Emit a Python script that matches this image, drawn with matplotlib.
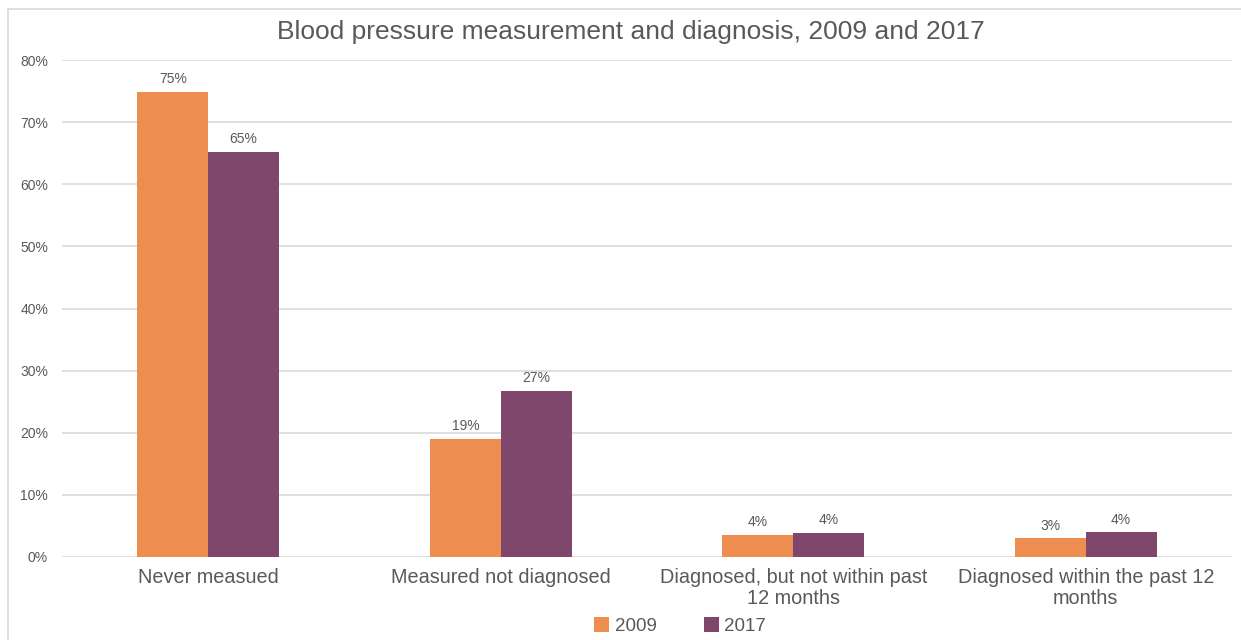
import numpy as np
import matplotlib
matplotlib.use('Agg')
import matplotlib.pyplot as plt
from matplotlib.patches import Rectangle
from matplotlib.ticker import FuncFormatter

plt.rcParams['font.family'] = ['Liberation Sans', 'DejaVu Sans']

categories = ['Never measued', 'Measured not diagnosed',
              'Diagnosed, but not within past\n12 months',
              'Diagnosed within the past 12\nmonths']
vals_2009 = [74.9, 19.0, 3.6, 3.0]
vals_2017 = [65.2, 26.8, 3.9, 4.0]
labels_2009 = ['75%', '19%', '4%', '3%']
labels_2017 = ['65%', '27%', '4%', '4%']
yticks = [0, 10, 20, 30, 40, 50, 60, 70, 80]

orange = '#ED8D4F'
purple = '#7F476B'
text_col = '#595959'
grid_col = '#D9D9D9'

fig = plt.figure(figsize=(12.41, 6.4), dpi=100)
ax = fig.add_axes([62 / 1241, 83 / 640, 1170 / 1241, 497 / 640])

# outer chart border
fig.patches.append(Rectangle((8 / 1241, -0.05), 1.1, 1 - 9 / 640 + 0.05,
                             transform=fig.transFigure, fill=False,
                             edgecolor='#D9D9D9', linewidth=1.2))

x = np.arange(len(categories))
w = 0.242
b1 = ax.bar(x - w / 2, vals_2009, w, color=orange, label='2009', zorder=3)
b2 = ax.bar(x + w / 2, vals_2017, w, color=purple, label='2017', zorder=3)

for bars, labs in [(b1, labels_2009), (b2, labels_2017)]:
    for rect, lab in zip(bars, labs):
        ax.text(rect.get_x() + rect.get_width() / 2, rect.get_height() + 0.9, lab,
                ha='center', va='bottom', fontsize=10, color=text_col)

ax.set_xlim(-0.5, len(categories) - 0.5)
ax.set_ylim(0, 80)
ax.set_yticks(yticks)
ax.yaxis.set_major_formatter(FuncFormatter(lambda v, p: '%d%%' % v))
ax.set_xticks(x)
ax.set_xticklabels(categories, fontsize=14.3, color=text_col, linespacing=1.15)
ax.tick_params(axis='y', length=0, labelsize=10, labelcolor=text_col, pad=10)
ax.tick_params(axis='x', length=0, pad=8)
ax.grid(axis='y', color=grid_col, linewidth=1.2, zorder=0)
for s in ax.spines.values():
    s.set_visible(False)

fig.text(0.508, 1 - 32 / 640, 'Blood pressure measurement and diagnosis, 2009 and 2017',
         ha='center', va='center', fontsize=19, color=text_col)

fig.legend(handles=[b1, b2], loc='center', bbox_to_anchor=(0.548, 1 - 626 / 640),
           ncol=2, frameon=False, fontsize=13.5, handlelength=0.8, handleheight=0.8,
           handletextpad=0.3, columnspacing=2.5, labelcolor=text_col)

fig.savefig('out.png', dpi=100)
